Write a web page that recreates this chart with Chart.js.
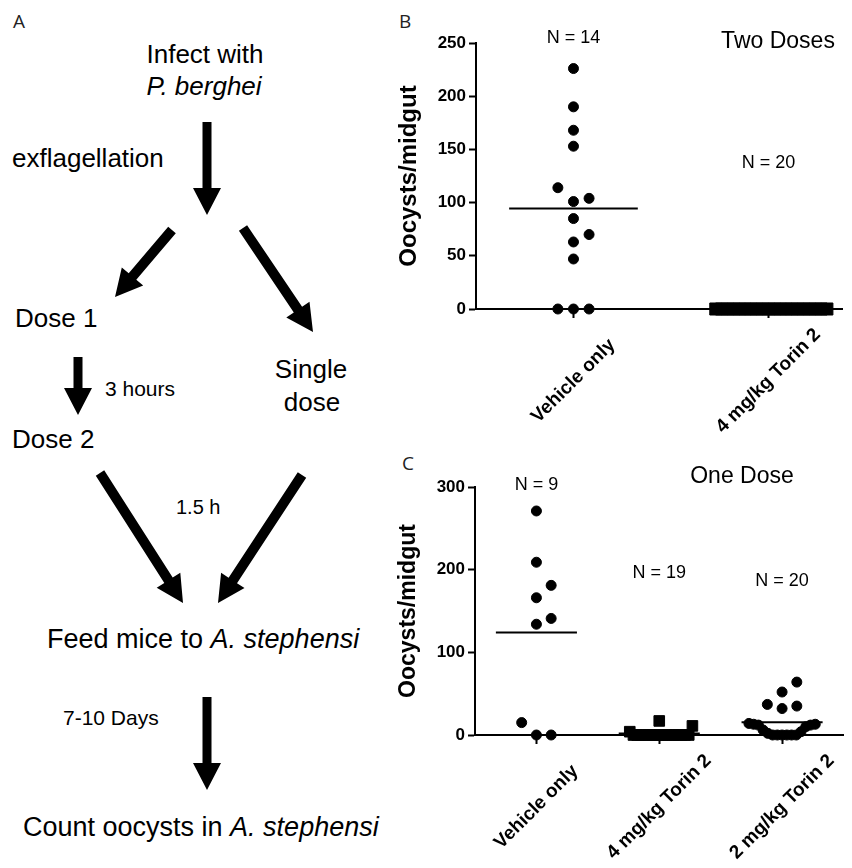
<!DOCTYPE html>
<html>
<head>
<meta charset="utf-8">
<script src="https://cdn.jsdelivr.net/npm/chart.js@4.4.1/dist/chart.umd.min.js"></script>
<style>
  body { margin: 0; background: #fff; }
  #page { position: relative; width: 852px; height: 868px; overflow: hidden; }
  #flow { position: absolute; left: 0; top: 0; }
  #flow text { font-family: "Liberation Sans", Arial, sans-serif; fill: #000; }
  #flow .panel { font-family: "Open Sans", sans-serif; fill: #222; font-size: 19px; }
  #chartB { position: absolute; left: 395px; top: 0; }
  #chartC { position: absolute; left: 395px; top: 455px; }
</style>
</head>
<body>
<div id="page">
  <svg id="flow" width="852" height="868">
    <text class="panel" x="13" y="28">A</text>
    <text class="panel" x="399" y="28">B</text>
    <text class="panel" x="402" y="470">C</text>

    <text x="205" y="63" font-size="26" text-anchor="middle">Infect with</text>
    <text x="204" y="95" font-size="26" text-anchor="middle" font-style="italic">P. berghei</text>
    <text x="12" y="167" font-size="26">exflagellation</text>
    <text x="15" y="327" font-size="26">Dose 1</text>
    <text x="311" y="378" font-size="26" text-anchor="middle">Single</text>
    <text x="312" y="411" font-size="26" text-anchor="middle">dose</text>
    <text x="105" y="396" font-size="21">3 hours</text>
    <text x="12" y="448" font-size="26">Dose 2</text>
    <text x="176" y="514" font-size="20">1.5 h</text>
    <text x="47" y="648" font-size="27">Feed mice to <tspan font-style="italic">A. stephensi</tspan></text>
    <text x="63" y="725" font-size="21">7-10 Days</text>
    <text x="23" y="836" font-size="27">Count oocysts in <tspan font-style="italic">A. stephensi</tspan></text>
    <g id="arrows"></g>
  </svg>
  <canvas id="chartB" width="457" height="455"></canvas>
  <canvas id="chartC" width="457" height="413"></canvas>
</div>
<script>
// Panel B - two doses
const groupsB = ['Vehicle only', '4 mg/kg Torin 2'];
const vehicleB = [226, 190, 168, 153, 114, 104, 101, 85, 70, 63, 47, 0, 0, 0];
const torin4B = [0, 0, 0, 0, 0, 0, 0, 0, 0, 0, 0, 0, 0, 0, 0, 0, 0, 0, 0, 0];
const yTicksB = [0, 50, 100, 150, 200, 250];

// Panel C - one dose
const groupsC = ['Vehicle only', '4 mg/kg Torin 2', '2 mg/kg Torin 2'];
const vehicleC = [271, 209, 181, 166, 141, 134, 15, 0, 0];
const torin4C = [17, 11, 4, 0, 0, 0, 0, 0, 0, 0, 0, 0, 0, 0, 0, 0, 0, 0, 0];
const torin2C = [64, 52, 37, 35, 32, 14, 13, 13, 12, 12, 10, 6, 4, 2, 0, 0, 0, 0, 0, 0];
const yTicksC = [0, 100, 200, 300];

const FONT = '"Liberation Sans", Arial, sans-serif';

// flowchart arrows (panel A)
const flowArrows = [
  [207, 122, 207, 215], [172, 230, 115, 297], [243, 228, 313, 332],
  [78, 357, 78, 415], [100, 473, 183, 603], [302, 475, 218, 603], [207, 697, 207, 790]
];
const arrowGroup = document.getElementById('arrows');
flowArrows.forEach(a => {
  const [x1, y1, x2, y2] = a;
  const len = Math.hypot(x2 - x1, y2 - y1);
  const ux = (x2 - x1) / len, uy = (y2 - y1) / len;
  const nx = -uy, ny = ux;
  const sw = x1 === x2 ? 4.5 : 5, hw = 14, hl = 27;
  const bx = x2 - ux * hl, by = y2 - uy * hl;
  const pts = [
    [x1 + nx * sw, y1 + ny * sw], [bx + nx * sw, by + ny * sw], [bx + nx * hw, by + ny * hw],
    [x2, y2], [bx - nx * hw, by - ny * hw], [bx - nx * sw, by - ny * sw], [x1 - nx * sw, y1 - ny * sw]
  ];
  const poly = document.createElementNS('http://www.w3.org/2000/svg', 'polygon');
  poly.setAttribute('points', pts.map(p => p[0].toFixed(1) + ',' + p[1].toFixed(1)).join(' '));
  poly.setAttribute('fill', '#000');
  arrowGroup.appendChild(poly);
});

// spread points that would overlap sideways (simple beeswarm)
function swarm(values, center, gap, step, maxHalf) {
  const order = values.map((v, i) => i).sort((a, b) => values[a] - values[b]);
  const tries = [0];
  for (let n = 1; n < 40; n++) tries.push(n, -n);
  const placed = [];
  order.forEach(i => {
    const v = values[i];
    const s = tries.find(t => !placed.some(p => p.s === t && Math.abs(p.v - v) < gap));
    placed.push({ v, s });
  });
  return placed.map(p => {
    const crowd = Math.max(1, ...placed.filter(q => Math.abs(q.v - p.v) < gap).map(q => Math.abs(q.s)));
    const st = Math.min(step, maxHalf / crowd);
    return { x: center + p.s * st, y: p.v };
  });
}

function mean(a) {
  return a.reduce((s, v) => s + v, 0) / a.length;
}

// category labels, N counts and the panel title
const groupLabels = {
  id: 'groupLabels',
  afterDraw(chart) {
    const o = chart.options.plugins.groupLabels;
    const ctx = chart.ctx, xs = chart.scales.x, ys = chart.scales.y;
    ctx.save();
    ctx.fillStyle = '#000';
    ctx.textAlign = 'center';
    ctx.textBaseline = 'middle';
    ctx.font = 'bold 19px ' + FONT;
    o.groups.forEach((g, i) => {
      ctx.save();
      ctx.translate(xs.getPixelForValue(i + 1), ys.bottom + o.drop);
      ctx.rotate(-Math.PI / 4);
      ctx.fillText(g, 0, 0);
      ctx.restore();
    });
    ctx.font = '18px ' + FONT;
    o.counts.forEach((n, i) => {
      ctx.fillText('N = ' + n, xs.getPixelForValue(i + 1), o.countY[i]);
    });
    ctx.font = '23px ' + FONT;
    ctx.fillText(o.title, o.titleX, o.titleY);
    ctx.restore();
  }
};

function makeChart(id, p) {
  const datasets = [];
  p.series.forEach((vals, i) => {
    datasets.push({
      type: 'scatter',
      data: swarm(vals, i + 1, p.gap, p.step, p.maxHalf),
      pointStyle: p.shapes[i],
      pointRadius: p.shapes[i] === 'rect' ? p.rectR : p.dotR,
      backgroundColor: '#000',
      borderColor: '#000',
      borderWidth: 1,
      clip: false
    });
    const m = mean(vals);
    datasets.push({
      type: 'line',
      data: [{ x: i + 1 - 0.33, y: m }, { x: i + 1 + 0.33, y: m }],
      borderColor: '#000',
      borderWidth: 2,
      pointRadius: 0,
      clip: false
    });
  });

  return new Chart(document.getElementById(id), {
    type: 'scatter',
    data: { datasets },
    options: {
      responsive: false,
      animation: false,
      layout: { padding: { top: p.top, right: 0, bottom: 0, left: 0 } },
      plugins: {
        legend: { display: false },
        tooltip: { enabled: false },
        groupLabels: {
          groups: p.groups,
          counts: p.series.map(s => s.length),
          countY: p.countY,
          drop: 72,
          title: p.title,
          titleX: p.titleX,
          titleY: p.titleY
        }
      },
      scales: {
        x: {
          type: 'linear',
          min: 0.5,
          max: p.xMax,
          afterBuildTicks: s => { s.ticks = p.groups.map((g, i) => ({ value: i + 1 })); },
          afterFit: s => { s.height = p.xHeight; },
          ticks: { display: false },
          grid: { drawOnChartArea: false, drawTicks: true, tickLength: 9, tickWidth: 2, tickColor: '#000' },
          border: { color: '#000', width: 2 }
        },
        y: {
          min: 0,
          max: p.yMax,
          afterBuildTicks: s => { s.ticks = p.yTicks.map(v => ({ value: v })); },
          afterFit: s => { s.width = p.yWidth; },
          ticks: { color: '#000', font: { family: FONT, weight: 'bold', size: 17 }, padding: 3 },
          grid: { drawOnChartArea: false, drawTicks: true, tickLength: 7, tickWidth: 2, tickColor: '#000' },
          border: { color: '#000', width: 2 },
          title: {
            display: true,
            text: 'Oocysts/midgut',
            color: '#000',
            font: { family: FONT, weight: 'bold', size: p.titleSize },
            padding: 0
          }
        }
      }
    },
    plugins: [groupLabels]
  });
}

makeChart('chartB', {
  groups: groupsB,
  series: [vehicleB, torin4B],
  shapes: ['circle', 'rect'],
  dotR: 5, rectR: 8.5,
  gap: 14, step: 0.08, maxHalf: 0.3,
  top: 43, xHeight: 146, yWidth: 81,
  xMax: 2.38, yMax: 250, yTicks: yTicksB,
  titleSize: 24,
  countY: [38, 163],
  title: 'Two Doses', titleX: 383, titleY: 42
});

makeChart('chartC', {
  groups: groupsC,
  series: [vehicleC, torin4C, torin2C],
  shapes: ['circle', 'rect', 'circle'],
  dotR: 5, rectR: 7.5,
  gap: 15.7, step: 0.12, maxHalf: 0.27,
  top: 32, xHeight: 133, yWidth: 80,
  xMax: 3.5, yMax: 300, yTicks: yTicksC,
  titleSize: 23,
  countY: [30, 118, 126],
  title: 'One Dose', titleX: 347, titleY: 22
});
</script>
</body>
</html>
